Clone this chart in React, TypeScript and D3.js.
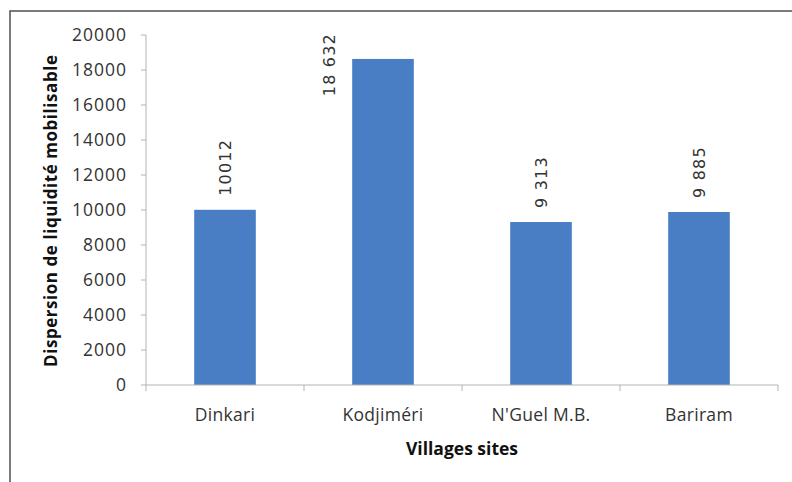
import React from "react";
import * as d3 from "d3";

const categories = ["Dinkari", "Kodjiméri", "N'Guel M.B.", "Bariram"];
const values = [10012, 18632, 9313, 9885];
const valueLabels = ["10012", "18 632", "9 313", "9 885"];
const yTicks = [0, 2000, 4000, 6000, 8000, 10000, 12000, 14000, 16000, 18000, 20000];
const yTitle = "Dispersion de liquidité mobilisable";
const xTitle = "Villages sites";

const W = 792;
const H = 482;
const plot = { left: 146, right: 778, top: 35, bottom: 385 };

export default function App() {
  const y = d3.scaleLinear().domain([0, 20000]).range([plot.bottom, plot.top]);
  const x = d3
    .scaleBand<string>()
    .domain(categories)
    .range([plot.left, plot.right])
    .paddingInner(0.61)
    .paddingOuter(0.305);
  const step = x.step();
  const boundaries = d3.range(categories.length + 1).map((i) => plot.left + i * step);
  const tickFont = "'Open Sans', 'Liberation Sans', sans-serif";
  const labelLen = 58;

  return (
    <div style={{ position: "fixed", left: 0, top: 0, width: W, height: H, background: "#fff" }}>
      <svg width={W} height={H} style={{ display: "block" }}>
        <rect x={0} y={0} width={W} height={H} fill="#fff" />
        {/* chart border (cropped) */}
        <rect x={10} y={11} width={W + 20} height={H + 20} fill="none" stroke="#5a5a5a" strokeWidth={1.6} />

        {/* y axis */}
        <line x1={plot.left} x2={plot.left} y1={plot.top} y2={plot.bottom} stroke="#b3b3b3" strokeWidth={1} />
        {yTicks.map((t) => (
          <g key={t}>
            <line x1={plot.left - 5} x2={plot.left} y1={y(t)} y2={y(t)} stroke="#b3b3b3" strokeWidth={1} />
            <text
              x={127}
              y={y(t)}
              dy="0.36em"
              textAnchor="end"
              fontFamily={tickFont}
              fontSize={17.5}
              letterSpacing={1}
              fill="#333"
            >
              {t}
            </text>
          </g>
        ))}

        {/* bars */}
        {categories.map((c, i) => (
          <rect
            key={c}
            x={x(c)}
            y={y(values[i])}
            width={x.bandwidth()}
            height={y(0) - y(values[i])}
            fill="#4a7ec4"
          />
        ))}

        {/* x axis */}
        <line x1={plot.left} x2={plot.right} y1={plot.bottom} y2={plot.bottom} stroke="#b3b3b3" strokeWidth={1} />
        {boundaries.map((bx, i) => (
          <line key={i} x1={bx} x2={bx} y1={plot.bottom} y2={plot.bottom + 6} stroke="#b3b3b3" strokeWidth={1} />
        ))}
        {categories.map((c) => (
          <text
            key={c}
            x={(x(c) as number) + x.bandwidth() / 2}
            y={421}
            textAnchor="middle"
            fontFamily={tickFont}
            fontSize={17.5}
            letterSpacing={0.3}
            fill="#333"
          >
            {c}
          </text>
        ))}

        {/* data labels */}
        {categories.map((c, i) => {
          const cx = (x(c) as number) + x.bandwidth() / 2;
          const top = y(values[i]);
          let lx = cx;
          let ly = top - 14;
          let anchor: "start" | "end" = "start";
          if (top - 14 - labelLen < plot.top - 5) {
            lx = (x(c) as number) - 23;
            ly = plot.top - 2;
            anchor = "end";
          }
          return (
            <text
              key={c}
              transform={`translate(${lx},${ly}) rotate(-90)`}
              textAnchor={anchor}
              dominantBaseline="central"
              fontFamily="'DejaVu Sans', sans-serif"
              fontSize={16}
              letterSpacing={1.2}
              fill="#333"
            >
              {valueLabels[i]}
            </text>
          );
        })}

        {/* axis titles */}
        <text
          transform={`translate(50,211) rotate(-90)`}
          textAnchor="middle"
          dominantBaseline="central"
          fontFamily={tickFont}
          fontWeight="bold"
          fontSize={17}
          textLength={312}
          lengthAdjust="spacing"
          fill="#111"
        >
          {yTitle}
        </text>
        <text
          x={(plot.left + plot.right) / 2}
          y={455}
          textAnchor="middle"
          fontFamily={tickFont}
          fontWeight="bold"
          fontSize={17.5}
          fill="#111"
        >
          {xTitle}
        </text>
      </svg>
    </div>
  );
}
